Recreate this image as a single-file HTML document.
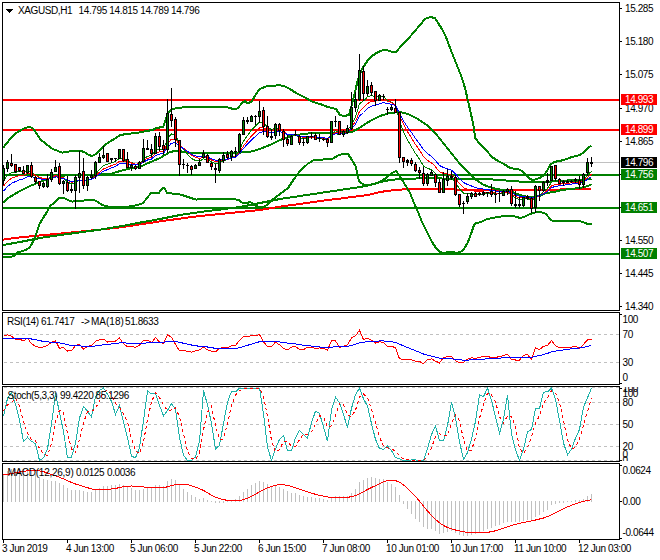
<!DOCTYPE html>
<html><head><meta charset="utf-8"><title>XAGUSD,H1</title>
<style>
html,body{margin:0;padding:0;background:#fff;}
body{width:660px;height:560px;position:relative;overflow:hidden;font-family:"Liberation Sans", sans-serif;}
.t{position:absolute;white-space:nowrap;line-height:11px;height:11px;font-family:"Liberation Sans", sans-serif;}
</style></head><body>
<svg width="660" height="560" viewBox="0 0 660 560" shape-rendering="crispEdges" style="position:absolute;left:0;top:0"><rect x="0" y="0" width="660" height="560" fill="#fff"/><defs><clipPath id="cm"><rect x="3" y="3" width="616" height="307"/></clipPath><clipPath id="cr"><rect x="3" y="313" width="616" height="71"/></clipPath><clipPath id="cs"><rect x="3" y="387" width="616" height="74"/></clipPath><clipPath id="cd"><rect x="3" y="464" width="616" height="75"/></clipPath></defs><g clip-path="url(#cm)"><rect x="3" y="162" width="616" height="1" fill="#c0c0c0"/><rect x="3" y="174" width="616" height="2" fill="#008000"/><rect x="3" y="207" width="616" height="2" fill="#008000"/><rect x="3" y="253" width="616" height="2" fill="#008000"/><rect x="3" y="99" width="616" height="2" fill="#ff0000"/><rect x="3" y="129" width="616" height="2" fill="#ff0000"/><polyline points="3.0,239.6 20.0,237.4 40.0,235.4 60.0,233.6 80.0,231.6 100.0,229.6 120.0,227.4 140.0,224.4 160.0,221.4 180.0,218.6 200.0,216.0 220.0,214.0 240.0,212.0 260.0,210.0 280.0,206.6 300.0,204.0 320.0,201.0 340.0,198.6 360.0,196.0 368.0,195.0 380.0,192.0 390.0,190.6 400.0,189.6 412.0,189.0 440.0,189.0 460.0,189.6 476.0,190.0 492.0,190.0 520.0,190.0 560.0,189.5 591.5,189.0" fill="none" stroke="#ff0000" stroke-width="2" /><polyline points="3.0,245.0 20.0,242.0 40.0,238.0 60.0,235.0 80.0,232.4 100.0,229.6 120.0,226.4 140.0,222.6 160.0,219.0 180.0,215.0 200.0,212.0 220.0,209.6 240.0,207.0 250.0,205.0 260.0,203.0 280.0,199.0 300.0,196.0 320.0,193.0 340.0,190.0 360.0,187.0 370.0,185.0 380.0,182.0 390.0,180.0 400.0,179.0 420.0,178.4 460.0,178.6 492.0,179.4 500.0,180.0 520.0,181.6 530.0,182.0 545.0,182.0 560.0,181.0 575.0,180.0 591.5,179.0" fill="none" stroke="#008000" stroke-width="2" /><polyline points="3.0,148.0 10.0,139.0 16.0,133.0 22.0,129.6 26.0,127.6 30.0,127.0 33.0,128.4 37.0,134.0 40.0,139.0 46.0,144.0 52.0,148.6 58.0,151.0 62.0,152.6 66.0,152.0 72.0,151.0 80.0,150.6 84.0,152.0 89.0,155.0 92.0,156.0 96.0,154.0 100.0,150.0 104.0,146.0 109.0,142.0 116.0,138.0 120.0,135.0 130.0,133.6 140.0,132.4 146.0,131.0 153.0,130.0 156.0,128.0 163.0,127.0 165.0,122.0 168.0,113.0 171.0,110.0 176.0,108.0 188.0,107.0 204.0,106.6 224.0,106.6 230.0,108.0 235.0,109.6 238.0,108.0 242.0,103.0 245.0,101.0 248.0,103.6 252.0,101.0 256.0,94.0 260.0,89.0 266.0,86.4 272.0,86.4 278.0,85.0 284.0,86.0 290.0,89.0 296.0,93.0 304.0,97.0 312.0,101.6 320.0,104.0 328.0,107.0 336.0,109.0 340.0,115.0 344.0,116.0 349.0,115.0 352.0,104.0 355.0,92.0 358.0,79.0 362.0,69.0 364.0,66.0 368.0,60.0 372.0,56.0 378.0,52.0 385.0,49.6 391.0,51.6 396.0,52.0 402.0,45.0 408.0,39.0 414.0,32.0 420.0,25.0 425.0,19.0 430.0,17.0 435.0,18.0 438.0,23.0 442.0,29.0 446.0,37.0 450.0,48.0 454.0,58.0 458.0,68.0 462.0,78.0 465.0,88.0 468.0,101.0 471.0,114.0 474.0,128.0 475.0,138.0 480.0,144.0 486.0,150.0 492.0,157.0 498.0,161.0 504.0,164.0 510.0,168.0 520.0,169.6 524.0,173.0 530.0,179.0 533.0,180.0 540.0,178.0 544.0,175.0 547.0,171.0 550.0,165.0 554.0,162.0 564.0,160.0 572.0,157.0 580.0,155.0 584.0,152.0 588.0,148.0 591.5,145.6" fill="none" stroke="#008000" stroke-width="2" /><polyline points="3.0,203.0 8.0,198.0 20.0,191.0 30.0,186.0 40.0,182.0 50.0,178.0 58.0,176.0 66.0,175.4 80.0,175.4 88.0,175.0 96.0,175.0 104.0,174.0 112.0,173.6 120.0,171.0 130.0,168.4 140.0,167.0 146.0,164.0 153.0,161.0 160.0,158.0 165.0,155.0 170.0,152.0 175.0,151.0 180.0,151.0 184.0,152.4 190.0,152.6 210.0,152.6 232.0,152.6 240.0,152.6 252.0,151.4 258.0,149.6 270.0,145.0 280.0,140.0 292.0,135.6 306.0,133.6 320.0,133.0 340.0,133.6 352.0,132.0 360.0,127.6 370.0,121.0 380.0,116.0 390.0,113.0 400.0,112.0 408.0,114.0 418.0,119.0 428.0,126.0 436.0,134.0 444.0,144.0 452.0,154.0 460.0,164.0 468.0,172.0 476.0,180.0 484.0,185.0 492.0,188.0 500.0,189.6 510.0,191.0 520.0,195.0 528.0,197.0 534.0,197.0 540.0,196.0 546.0,193.0 554.0,192.0 560.0,190.4 570.0,189.0 580.0,188.0 588.0,186.0 591.5,184.4" fill="none" stroke="#008000" stroke-width="2" /><polyline points="3.0,256.6 12.0,256.6 14.0,256.0 18.0,252.4 26.0,250.0 30.0,247.0 34.0,240.0 37.0,232.0 39.0,225.0 43.0,218.0 47.0,212.0 50.0,206.0 55.0,202.4 59.0,198.4 64.0,198.0 68.0,200.0 72.0,201.6 80.0,201.0 88.0,200.0 94.0,200.0 98.0,202.0 102.0,205.0 108.0,206.6 120.0,207.4 130.0,206.4 138.0,205.0 143.0,203.0 147.0,198.0 151.0,193.0 159.0,192.6 163.0,187.6 164.4,188.0 167.0,193.0 180.0,194.4 188.0,197.0 196.0,199.6 204.0,198.6 220.0,198.6 238.0,199.6 242.0,202.6 248.0,203.0 250.0,201.6 254.0,205.0 260.0,207.4 264.0,207.0 268.0,204.0 272.0,200.0 280.0,194.0 288.0,188.0 294.0,179.0 300.0,171.0 308.0,163.6 314.0,160.0 332.0,159.0 338.0,155.6 344.0,153.6 348.0,154.0 352.0,160.0 356.0,167.0 358.0,178.0 360.0,182.4 365.0,185.0 369.0,185.0 372.0,184.6 380.0,182.0 386.0,178.0 392.0,173.0 396.0,171.0 399.0,175.0 404.0,183.0 410.0,193.0 414.0,203.0 418.0,212.0 422.0,222.0 427.0,232.0 432.0,242.0 436.0,248.0 440.0,252.0 444.0,253.0 450.0,251.6 456.0,252.6 460.0,252.4 464.0,249.0 468.0,242.0 471.0,234.0 474.0,225.0 476.0,223.0 480.0,222.4 486.0,219.6 492.0,218.0 500.0,216.6 510.0,215.6 516.0,216.6 520.0,218.0 524.0,217.0 530.0,214.0 535.0,212.4 542.0,212.4 546.0,214.0 550.0,219.0 552.0,220.6 560.0,221.0 570.0,220.6 580.0,221.0 584.0,222.6 588.0,224.0 591.5,224.0" fill="none" stroke="#008000" stroke-width="2" /><polyline points="3.5,180.5 7.5,175.4 11.5,172.5 15.5,172.2 19.5,171.7 23.5,172.2 27.5,170.3 31.5,172.1 35.5,174.8 39.5,177.8 43.5,179.5 47.5,179.5 51.5,177.5 55.5,174.6 59.5,177.2 63.5,178.4 67.5,181.9 71.5,184.0 75.5,182.2 79.5,179.7 83.5,181.4 87.5,180.3 91.5,178.9 95.5,174.2 99.5,169.4 103.5,165.5 107.5,164.3 111.5,162.7 115.5,161.5 119.5,158.1 123.5,158.8 127.5,161.3 131.5,162.5 135.5,164.2 139.5,163.7 143.5,159.4 147.5,156.3 151.5,155.5 155.5,150.1 159.5,149.0 163.5,149.2 167.5,139.0 171.5,133.7 175.5,135.4 179.5,143.7 183.5,149.6 187.5,154.2 191.5,158.5 195.5,160.5 199.5,161.1 203.5,158.9 207.5,159.9 211.5,161.8 215.5,163.7 219.5,162.5 223.5,160.5 227.5,159.7 231.5,157.3 235.5,155.7 239.5,149.6 243.5,141.3 247.5,135.4 251.5,130.0 255.5,126.1 259.5,121.9 263.5,123.2 267.5,127.0 271.5,129.7 275.5,128.2 279.5,128.9 283.5,131.9 287.5,135.2 291.5,135.6 295.5,135.3 299.5,137.3 303.5,138.8 307.5,138.2 311.5,137.7 315.5,138.2 319.5,138.3 323.5,138.6 327.5,139.7 331.5,134.5 335.5,130.8 339.5,131.9 343.5,131.8 347.5,130.8 351.5,124.2 355.5,117.1 359.5,103.8 363.5,100.9 367.5,96.8 371.5,95.5 375.5,97.0 379.5,96.5 383.5,96.5 387.5,100.2 391.5,102.3 395.5,105.2 399.5,120.2 403.5,132.0 407.5,140.1 411.5,146.8 415.5,153.6 419.5,159.0 423.5,166.0 427.5,168.4 431.5,169.6 435.5,173.3 439.5,178.8 443.5,179.0 447.5,178.3 451.5,177.8 455.5,182.5 459.5,188.8 463.5,193.0 467.5,194.0 471.5,193.9 475.5,194.6 479.5,194.3 483.5,193.8 487.5,193.4 491.5,193.7 495.5,193.9 499.5,193.8 503.5,193.2 507.5,192.1 511.5,195.4 515.5,198.0 519.5,199.8 523.5,199.2 527.5,198.4 531.5,201.3 535.5,197.1 539.5,195.2 543.5,191.6 547.5,188.4 551.5,182.1 555.5,181.1 559.5,181.8 563.5,181.7 567.5,181.6 571.5,181.6 575.5,181.0 579.5,182.0 583.5,179.9 587.5,174.9 591.5,171.4" fill="none" stroke="#008000" stroke-width="1" /><polyline points="3.5,186.0 7.5,181.3 11.5,178.1 15.5,176.8 19.5,175.5 23.5,175.1 27.5,173.2 31.5,173.9 35.5,175.4 39.5,177.4 43.5,178.6 47.5,178.8 51.5,177.5 55.5,175.5 59.5,177.1 63.5,178.0 67.5,180.5 71.5,182.3 75.5,181.3 79.5,179.8 83.5,180.9 87.5,180.2 91.5,179.3 95.5,175.9 99.5,172.2 103.5,168.9 107.5,167.4 111.5,165.6 115.5,164.2 119.5,161.3 123.5,161.1 127.5,162.4 131.5,163.0 135.5,164.1 139.5,163.8 143.5,160.7 147.5,158.3 151.5,157.3 155.5,153.2 159.5,151.8 163.5,151.4 167.5,143.8 171.5,139.1 175.5,139.2 179.5,144.3 183.5,148.3 187.5,151.7 191.5,155.3 195.5,157.3 199.5,158.4 203.5,157.4 207.5,158.4 211.5,160.0 215.5,161.7 219.5,161.3 223.5,160.1 227.5,159.6 231.5,158.0 235.5,156.7 239.5,152.2 243.5,145.9 247.5,140.8 251.5,136.0 255.5,132.1 259.5,128.0 263.5,127.7 267.5,129.4 271.5,130.8 275.5,129.6 279.5,129.8 283.5,131.7 287.5,134.1 291.5,134.6 295.5,134.5 299.5,136.1 303.5,137.4 307.5,137.2 311.5,137.1 315.5,137.6 319.5,137.8 323.5,138.1 327.5,139.0 331.5,135.5 335.5,132.7 339.5,133.1 343.5,132.7 347.5,131.9 351.5,127.0 355.5,121.5 359.5,111.3 363.5,107.7 367.5,103.5 371.5,101.3 375.5,101.1 379.5,100.0 383.5,99.3 387.5,101.3 391.5,102.6 395.5,104.6 399.5,115.1 403.5,124.4 407.5,131.6 411.5,138.0 415.5,144.5 419.5,150.1 423.5,156.8 427.5,160.3 431.5,162.8 435.5,166.7 439.5,171.9 443.5,173.4 447.5,174.0 451.5,174.5 455.5,178.5 459.5,183.7 463.5,187.7 467.5,189.4 471.5,190.2 475.5,191.5 479.5,191.9 483.5,192.0 487.5,192.1 491.5,192.6 495.5,193.0 499.5,193.1 503.5,192.8 507.5,192.1 511.5,194.4 515.5,196.4 519.5,198.0 523.5,197.9 527.5,197.6 531.5,199.8 535.5,197.1 539.5,195.8 543.5,193.2 547.5,190.6 551.5,185.8 555.5,184.3 559.5,184.2 563.5,183.6 567.5,183.2 571.5,182.9 575.5,182.2 579.5,182.7 583.5,181.0 587.5,177.3 591.5,174.4" fill="none" stroke="#ff0000" stroke-width="1" /><polyline points="3.5,191.0 7.5,186.6 11.5,183.4 15.5,181.5 19.5,179.8 23.5,178.9 27.5,176.8 31.5,176.8 35.5,177.5 39.5,178.7 43.5,179.5 47.5,179.5 51.5,178.4 55.5,176.7 59.5,177.8 63.5,178.3 67.5,180.2 71.5,181.6 75.5,181.0 79.5,179.8 83.5,180.7 87.5,180.2 91.5,179.5 95.5,176.9 99.5,173.9 103.5,171.1 107.5,169.6 111.5,167.9 115.5,166.4 119.5,163.8 123.5,163.3 127.5,164.0 131.5,164.2 135.5,164.9 139.5,164.5 143.5,162.0 147.5,160.0 151.5,159.0 155.5,155.5 159.5,154.1 163.5,153.4 167.5,147.3 171.5,143.2 175.5,142.6 179.5,146.0 183.5,148.8 187.5,151.4 191.5,154.2 195.5,155.9 199.5,156.9 203.5,156.4 207.5,157.3 211.5,158.7 215.5,160.2 219.5,160.1 223.5,159.4 227.5,159.1 231.5,158.0 235.5,157.0 239.5,153.5 243.5,148.4 247.5,144.1 251.5,139.9 255.5,136.3 259.5,132.5 263.5,131.6 267.5,132.3 271.5,133.0 275.5,131.7 279.5,131.5 283.5,132.7 287.5,134.4 291.5,134.7 295.5,134.7 299.5,135.9 303.5,136.9 307.5,136.8 311.5,136.8 315.5,137.2 319.5,137.4 323.5,137.7 327.5,138.5 331.5,135.8 335.5,133.6 339.5,133.8 343.5,133.4 347.5,132.7 351.5,128.8 355.5,124.3 359.5,116.0 363.5,112.5 367.5,108.5 371.5,106.1 375.5,105.2 379.5,103.7 383.5,102.6 387.5,103.7 391.5,104.3 395.5,105.5 399.5,113.5 403.5,120.9 407.5,127.0 411.5,132.6 415.5,138.4 419.5,143.7 423.5,149.8 427.5,153.6 431.5,156.5 435.5,160.5 439.5,165.4 443.5,167.6 447.5,169.0 451.5,170.1 455.5,173.9 459.5,178.6 463.5,182.4 467.5,184.6 471.5,186.0 475.5,187.6 479.5,188.5 483.5,189.1 487.5,189.6 491.5,190.4 495.5,191.0 499.5,191.4 503.5,191.4 507.5,191.1 511.5,193.0 515.5,194.8 519.5,196.3 523.5,196.5 527.5,196.5 531.5,198.3 535.5,196.5 539.5,195.6 543.5,193.6 547.5,191.6 551.5,187.7 555.5,186.3 559.5,185.9 563.5,185.2 567.5,184.6 571.5,184.1 575.5,183.4 579.5,183.6 583.5,182.2 587.5,179.2 591.5,176.6" fill="none" stroke="#0000ff" stroke-width="1" /><rect x="3" y="165" width="1" height="20" fill="#000"/><rect x="2" y="168" width="3" height="13" fill="#000"/><rect x="3" y="169" width="1" height="11" fill="#008000"/><rect x="7" y="160" width="1" height="12" fill="#000"/><rect x="6" y="162" width="3" height="7" fill="#000"/><rect x="7" y="163" width="1" height="5" fill="#008000"/><rect x="11" y="154" width="1" height="13" fill="#000"/><rect x="10" y="163" width="3" height="3" fill="#000"/><rect x="11" y="164" width="1" height="1" fill="#ff0000"/><rect x="15" y="164" width="1" height="9" fill="#000"/><rect x="14" y="164" width="3" height="8" fill="#000"/><rect x="15" y="165" width="1" height="6" fill="#ff0000"/><rect x="19" y="167" width="1" height="5" fill="#000"/><rect x="18" y="167" width="3" height="4" fill="#000"/><rect x="19" y="168" width="1" height="2" fill="#ff0000"/><rect x="23" y="166" width="1" height="8" fill="#000"/><rect x="22" y="170" width="3" height="4" fill="#000"/><rect x="23" y="171" width="1" height="2" fill="#ff0000"/><rect x="27" y="165" width="1" height="9" fill="#000"/><rect x="26" y="165" width="3" height="8" fill="#000"/><rect x="27" y="166" width="1" height="6" fill="#008000"/><rect x="31" y="162" width="1" height="16" fill="#000"/><rect x="30" y="165" width="3" height="12" fill="#000"/><rect x="31" y="166" width="1" height="10" fill="#ff0000"/><rect x="35" y="176" width="1" height="8" fill="#000"/><rect x="34" y="177" width="3" height="5" fill="#000"/><rect x="35" y="178" width="1" height="3" fill="#ff0000"/><rect x="39" y="181" width="1" height="8" fill="#000"/><rect x="38" y="181" width="3" height="5" fill="#000"/><rect x="39" y="182" width="1" height="3" fill="#ff0000"/><rect x="43" y="182" width="1" height="6" fill="#000"/><rect x="42" y="183" width="3" height="4" fill="#000"/><rect x="43" y="184" width="1" height="2" fill="#008000"/><rect x="47" y="174" width="1" height="14" fill="#000"/><rect x="46" y="179" width="3" height="8" fill="#000"/><rect x="47" y="180" width="1" height="6" fill="#008000"/><rect x="51" y="169" width="1" height="13" fill="#000"/><rect x="50" y="172" width="3" height="8" fill="#000"/><rect x="51" y="173" width="1" height="6" fill="#008000"/><rect x="55" y="160" width="1" height="12" fill="#000"/><rect x="54" y="167" width="3" height="5" fill="#000"/><rect x="55" y="168" width="1" height="3" fill="#008000"/><rect x="59" y="163" width="1" height="22" fill="#000"/><rect x="58" y="166" width="3" height="18" fill="#000"/><rect x="59" y="167" width="1" height="16" fill="#ff0000"/><rect x="63" y="180" width="1" height="14" fill="#000"/><rect x="62" y="181" width="3" height="3" fill="#000"/><rect x="63" y="182" width="1" height="1" fill="#008000"/><rect x="67" y="176" width="1" height="16" fill="#000"/><rect x="66" y="182" width="3" height="9" fill="#000"/><rect x="67" y="183" width="1" height="7" fill="#ff0000"/><rect x="71" y="185" width="1" height="8" fill="#000"/><rect x="70" y="189" width="3" height="2" fill="#000"/><rect x="75" y="175" width="1" height="34" fill="#000"/><rect x="74" y="177" width="3" height="14" fill="#000"/><rect x="75" y="178" width="1" height="12" fill="#008000"/><rect x="79" y="151" width="1" height="42" fill="#000"/><rect x="78" y="173" width="3" height="5" fill="#000"/><rect x="79" y="174" width="1" height="3" fill="#008000"/><rect x="83" y="158" width="1" height="31" fill="#000"/><rect x="82" y="171" width="3" height="15" fill="#000"/><rect x="83" y="172" width="1" height="13" fill="#ff0000"/><rect x="87" y="176" width="1" height="15" fill="#000"/><rect x="86" y="177" width="3" height="9" fill="#000"/><rect x="87" y="178" width="1" height="7" fill="#008000"/><rect x="91" y="170" width="1" height="9" fill="#000"/><rect x="90" y="175" width="3" height="3" fill="#000"/><rect x="91" y="176" width="1" height="1" fill="#008000"/><rect x="95" y="161" width="1" height="18" fill="#000"/><rect x="94" y="162" width="3" height="14" fill="#000"/><rect x="95" y="163" width="1" height="12" fill="#008000"/><rect x="99" y="153" width="1" height="10" fill="#000"/><rect x="98" y="157" width="3" height="6" fill="#000"/><rect x="99" y="158" width="1" height="4" fill="#008000"/><rect x="103" y="146" width="1" height="13" fill="#000"/><rect x="102" y="155" width="3" height="3" fill="#000"/><rect x="103" y="156" width="1" height="1" fill="#008000"/><rect x="107" y="153" width="1" height="9" fill="#000"/><rect x="106" y="153" width="3" height="9" fill="#000"/><rect x="107" y="154" width="1" height="7" fill="#ff0000"/><rect x="111" y="158" width="1" height="5" fill="#000"/><rect x="110" y="158" width="3" height="2" fill="#000"/><rect x="115" y="158" width="1" height="4" fill="#000"/><rect x="114" y="158" width="3" height="1" fill="#000"/><rect x="119" y="149" width="1" height="10" fill="#000"/><rect x="118" y="149" width="3" height="10" fill="#000"/><rect x="119" y="150" width="1" height="8" fill="#008000"/><rect x="123" y="149" width="1" height="13" fill="#000"/><rect x="122" y="149" width="3" height="12" fill="#000"/><rect x="123" y="150" width="1" height="10" fill="#ff0000"/><rect x="127" y="152" width="1" height="16" fill="#000"/><rect x="126" y="159" width="3" height="9" fill="#000"/><rect x="127" y="160" width="1" height="7" fill="#ff0000"/><rect x="131" y="164" width="1" height="7" fill="#000"/><rect x="130" y="165" width="3" height="3" fill="#000"/><rect x="131" y="166" width="1" height="1" fill="#008000"/><rect x="135" y="165" width="1" height="5" fill="#000"/><rect x="134" y="166" width="3" height="3" fill="#000"/><rect x="135" y="167" width="1" height="1" fill="#ff0000"/><rect x="139" y="161" width="1" height="8" fill="#000"/><rect x="138" y="162" width="3" height="7" fill="#000"/><rect x="139" y="163" width="1" height="5" fill="#008000"/><rect x="143" y="139" width="1" height="24" fill="#000"/><rect x="142" y="148" width="3" height="14" fill="#000"/><rect x="143" y="149" width="1" height="12" fill="#008000"/><rect x="147" y="140" width="1" height="10" fill="#000"/><rect x="146" y="148" width="3" height="2" fill="#000"/><rect x="151" y="144" width="1" height="13" fill="#000"/><rect x="150" y="149" width="3" height="5" fill="#000"/><rect x="151" y="150" width="1" height="3" fill="#ff0000"/><rect x="155" y="133" width="1" height="21" fill="#000"/><rect x="154" y="136" width="3" height="18" fill="#000"/><rect x="155" y="137" width="1" height="16" fill="#008000"/><rect x="159" y="132" width="1" height="19" fill="#000"/><rect x="158" y="136" width="3" height="11" fill="#000"/><rect x="159" y="137" width="1" height="9" fill="#ff0000"/><rect x="163" y="140" width="1" height="15" fill="#000"/><rect x="162" y="145" width="3" height="5" fill="#000"/><rect x="163" y="146" width="1" height="3" fill="#ff0000"/><rect x="167" y="99" width="1" height="54" fill="#000"/><rect x="166" y="113" width="3" height="37" fill="#000"/><rect x="167" y="114" width="1" height="35" fill="#008000"/><rect x="171" y="88" width="1" height="39" fill="#000"/><rect x="170" y="114" width="3" height="7" fill="#000"/><rect x="171" y="115" width="1" height="5" fill="#ff0000"/><rect x="175" y="117" width="1" height="30" fill="#000"/><rect x="174" y="119" width="3" height="21" fill="#000"/><rect x="175" y="120" width="1" height="19" fill="#ff0000"/><rect x="179" y="140" width="1" height="36" fill="#000"/><rect x="178" y="140" width="3" height="25" fill="#000"/><rect x="179" y="141" width="1" height="23" fill="#ff0000"/><rect x="183" y="159" width="1" height="10" fill="#000"/><rect x="182" y="164" width="3" height="1" fill="#000"/><rect x="187" y="163" width="1" height="10" fill="#000"/><rect x="186" y="165" width="3" height="1" fill="#000"/><rect x="191" y="165" width="1" height="10" fill="#000"/><rect x="190" y="166" width="3" height="4" fill="#000"/><rect x="191" y="167" width="1" height="2" fill="#ff0000"/><rect x="195" y="164" width="1" height="5" fill="#000"/><rect x="194" y="165" width="3" height="4" fill="#000"/><rect x="195" y="166" width="1" height="2" fill="#008000"/><rect x="199" y="159" width="1" height="7" fill="#000"/><rect x="198" y="162" width="3" height="4" fill="#000"/><rect x="199" y="163" width="1" height="2" fill="#008000"/><rect x="203" y="150" width="1" height="8" fill="#000"/><rect x="202" y="153" width="3" height="5" fill="#000"/><rect x="203" y="154" width="1" height="3" fill="#008000"/><rect x="207" y="154" width="1" height="9" fill="#000"/><rect x="206" y="155" width="3" height="8" fill="#000"/><rect x="207" y="156" width="1" height="6" fill="#ff0000"/><rect x="211" y="162" width="1" height="8" fill="#000"/><rect x="210" y="163" width="3" height="4" fill="#000"/><rect x="211" y="164" width="1" height="2" fill="#ff0000"/><rect x="215" y="164" width="1" height="19" fill="#000"/><rect x="214" y="168" width="3" height="2" fill="#000"/><rect x="219" y="158" width="1" height="15" fill="#000"/><rect x="218" y="159" width="3" height="12" fill="#000"/><rect x="219" y="160" width="1" height="10" fill="#008000"/><rect x="223" y="152" width="1" height="11" fill="#000"/><rect x="222" y="155" width="3" height="6" fill="#000"/><rect x="223" y="156" width="1" height="4" fill="#008000"/><rect x="227" y="151" width="1" height="8" fill="#000"/><rect x="226" y="154" width="3" height="4" fill="#000"/><rect x="227" y="155" width="1" height="2" fill="#ff0000"/><rect x="231" y="150" width="1" height="11" fill="#000"/><rect x="230" y="151" width="3" height="6" fill="#000"/><rect x="231" y="152" width="1" height="4" fill="#008000"/><rect x="235" y="147" width="1" height="10" fill="#000"/><rect x="234" y="151" width="3" height="1" fill="#000"/><rect x="239" y="133" width="1" height="20" fill="#000"/><rect x="238" y="134" width="3" height="18" fill="#000"/><rect x="239" y="135" width="1" height="16" fill="#008000"/><rect x="243" y="117" width="1" height="18" fill="#000"/><rect x="242" y="120" width="3" height="15" fill="#000"/><rect x="243" y="121" width="1" height="13" fill="#008000"/><rect x="247" y="117" width="1" height="7" fill="#000"/><rect x="246" y="120" width="3" height="2" fill="#000"/><rect x="251" y="115" width="1" height="7" fill="#000"/><rect x="250" y="116" width="3" height="6" fill="#000"/><rect x="251" y="117" width="1" height="4" fill="#008000"/><rect x="255" y="115" width="1" height="10" fill="#000"/><rect x="254" y="116" width="3" height="1" fill="#000"/><rect x="259" y="101" width="1" height="22" fill="#000"/><rect x="258" y="111" width="3" height="6" fill="#000"/><rect x="259" y="112" width="1" height="4" fill="#008000"/><rect x="263" y="107" width="1" height="28" fill="#000"/><rect x="262" y="110" width="3" height="17" fill="#000"/><rect x="263" y="111" width="1" height="15" fill="#ff0000"/><rect x="267" y="116" width="1" height="22" fill="#000"/><rect x="266" y="126" width="3" height="11" fill="#000"/><rect x="267" y="127" width="1" height="9" fill="#ff0000"/><rect x="271" y="129" width="1" height="11" fill="#000"/><rect x="270" y="136" width="3" height="2" fill="#000"/><rect x="275" y="123" width="1" height="16" fill="#000"/><rect x="274" y="124" width="3" height="12" fill="#000"/><rect x="275" y="125" width="1" height="10" fill="#008000"/><rect x="279" y="123" width="1" height="13" fill="#000"/><rect x="278" y="124" width="3" height="7" fill="#000"/><rect x="279" y="125" width="1" height="5" fill="#ff0000"/><rect x="283" y="129" width="1" height="18" fill="#000"/><rect x="282" y="131" width="3" height="9" fill="#000"/><rect x="283" y="132" width="1" height="7" fill="#ff0000"/><rect x="287" y="135" width="1" height="11" fill="#000"/><rect x="286" y="139" width="3" height="5" fill="#000"/><rect x="287" y="140" width="1" height="3" fill="#ff0000"/><rect x="291" y="135" width="1" height="10" fill="#000"/><rect x="290" y="136" width="3" height="9" fill="#000"/><rect x="291" y="137" width="1" height="7" fill="#008000"/><rect x="295" y="130" width="1" height="6" fill="#000"/><rect x="294" y="134" width="3" height="1" fill="#000"/><rect x="299" y="135" width="1" height="10" fill="#000"/><rect x="298" y="136" width="3" height="7" fill="#000"/><rect x="299" y="137" width="1" height="5" fill="#ff0000"/><rect x="303" y="138" width="1" height="8" fill="#000"/><rect x="302" y="142" width="3" height="1" fill="#000"/><rect x="307" y="136" width="1" height="8" fill="#000"/><rect x="306" y="136" width="3" height="7" fill="#000"/><rect x="307" y="137" width="1" height="5" fill="#008000"/><rect x="311" y="132" width="1" height="7" fill="#000"/><rect x="310" y="136" width="3" height="1" fill="#000"/><rect x="315" y="133" width="1" height="7" fill="#000"/><rect x="314" y="135" width="3" height="5" fill="#000"/><rect x="315" y="136" width="1" height="3" fill="#ff0000"/><rect x="319" y="134" width="1" height="8" fill="#000"/><rect x="318" y="138" width="3" height="1" fill="#000"/><rect x="323" y="138" width="1" height="3" fill="#000"/><rect x="322" y="139" width="3" height="1" fill="#000"/><rect x="327" y="138" width="1" height="9" fill="#000"/><rect x="326" y="139" width="3" height="4" fill="#000"/><rect x="327" y="140" width="1" height="2" fill="#ff0000"/><rect x="331" y="121" width="1" height="22" fill="#000"/><rect x="330" y="121" width="3" height="22" fill="#000"/><rect x="331" y="122" width="1" height="20" fill="#008000"/><rect x="335" y="116" width="1" height="11" fill="#000"/><rect x="334" y="121" width="3" height="1" fill="#000"/><rect x="339" y="121" width="1" height="14" fill="#000"/><rect x="338" y="121" width="3" height="14" fill="#000"/><rect x="339" y="122" width="1" height="12" fill="#ff0000"/><rect x="343" y="130" width="1" height="7" fill="#000"/><rect x="342" y="131" width="3" height="4" fill="#000"/><rect x="343" y="132" width="1" height="2" fill="#008000"/><rect x="347" y="125" width="1" height="9" fill="#000"/><rect x="346" y="128" width="3" height="5" fill="#000"/><rect x="347" y="129" width="1" height="3" fill="#008000"/><rect x="351" y="92" width="1" height="38" fill="#000"/><rect x="350" y="107" width="3" height="22" fill="#000"/><rect x="351" y="108" width="1" height="20" fill="#008000"/><rect x="355" y="92" width="1" height="20" fill="#000"/><rect x="354" y="99" width="3" height="9" fill="#000"/><rect x="355" y="100" width="1" height="7" fill="#008000"/><rect x="359" y="54" width="1" height="47" fill="#000"/><rect x="358" y="70" width="3" height="30" fill="#000"/><rect x="359" y="71" width="1" height="28" fill="#008000"/><rect x="363" y="66" width="1" height="35" fill="#000"/><rect x="362" y="71" width="3" height="23" fill="#000"/><rect x="363" y="72" width="1" height="21" fill="#ff0000"/><rect x="367" y="80" width="1" height="16" fill="#000"/><rect x="366" y="86" width="3" height="8" fill="#000"/><rect x="367" y="87" width="1" height="6" fill="#008000"/><rect x="371" y="82" width="1" height="14" fill="#000"/><rect x="370" y="85" width="3" height="8" fill="#000"/><rect x="371" y="86" width="1" height="6" fill="#ff0000"/><rect x="375" y="91" width="1" height="15" fill="#000"/><rect x="374" y="91" width="3" height="10" fill="#000"/><rect x="375" y="92" width="1" height="8" fill="#ff0000"/><rect x="379" y="94" width="1" height="7" fill="#000"/><rect x="378" y="95" width="3" height="6" fill="#000"/><rect x="379" y="96" width="1" height="4" fill="#008000"/><rect x="383" y="94" width="1" height="6" fill="#000"/><rect x="382" y="96" width="3" height="1" fill="#000"/><rect x="387" y="107" width="1" height="8" fill="#000"/><rect x="386" y="109" width="3" height="1" fill="#000"/><rect x="391" y="105" width="1" height="6" fill="#000"/><rect x="390" y="107" width="3" height="3" fill="#000"/><rect x="391" y="108" width="1" height="1" fill="#008000"/><rect x="395" y="99" width="1" height="14" fill="#000"/><rect x="394" y="108" width="3" height="5" fill="#000"/><rect x="395" y="109" width="1" height="3" fill="#ff0000"/><rect x="399" y="112" width="1" height="51" fill="#000"/><rect x="398" y="112" width="3" height="46" fill="#000"/><rect x="399" y="113" width="1" height="44" fill="#ff0000"/><rect x="403" y="157" width="1" height="11" fill="#000"/><rect x="402" y="157" width="3" height="5" fill="#000"/><rect x="403" y="158" width="1" height="3" fill="#ff0000"/><rect x="407" y="159" width="1" height="7" fill="#000"/><rect x="406" y="160" width="3" height="3" fill="#000"/><rect x="411" y="158" width="1" height="8" fill="#000"/><rect x="410" y="160" width="3" height="4" fill="#000"/><rect x="411" y="161" width="1" height="2" fill="#ff0000"/><rect x="415" y="162" width="1" height="10" fill="#000"/><rect x="414" y="164" width="3" height="7" fill="#000"/><rect x="415" y="165" width="1" height="5" fill="#ff0000"/><rect x="419" y="167" width="1" height="12" fill="#000"/><rect x="418" y="170" width="3" height="3" fill="#000"/><rect x="419" y="171" width="1" height="1" fill="#ff0000"/><rect x="423" y="167" width="1" height="19" fill="#000"/><rect x="422" y="173" width="3" height="11" fill="#000"/><rect x="423" y="174" width="1" height="9" fill="#ff0000"/><rect x="427" y="173" width="1" height="13" fill="#000"/><rect x="426" y="174" width="3" height="10" fill="#000"/><rect x="427" y="175" width="1" height="8" fill="#008000"/><rect x="431" y="170" width="1" height="6" fill="#000"/><rect x="430" y="172" width="3" height="4" fill="#000"/><rect x="431" y="173" width="1" height="2" fill="#008000"/><rect x="435" y="174" width="1" height="13" fill="#000"/><rect x="434" y="174" width="3" height="9" fill="#000"/><rect x="435" y="175" width="1" height="7" fill="#ff0000"/><rect x="439" y="179" width="1" height="14" fill="#000"/><rect x="438" y="182" width="3" height="11" fill="#000"/><rect x="439" y="183" width="1" height="9" fill="#ff0000"/><rect x="443" y="172" width="1" height="21" fill="#000"/><rect x="442" y="179" width="3" height="14" fill="#000"/><rect x="443" y="180" width="1" height="12" fill="#008000"/><rect x="447" y="169" width="1" height="17" fill="#000"/><rect x="446" y="176" width="3" height="5" fill="#000"/><rect x="447" y="177" width="1" height="3" fill="#008000"/><rect x="451" y="171" width="1" height="9" fill="#000"/><rect x="450" y="176" width="3" height="2" fill="#000"/><rect x="455" y="175" width="1" height="21" fill="#000"/><rect x="454" y="177" width="3" height="18" fill="#000"/><rect x="455" y="178" width="1" height="16" fill="#ff0000"/><rect x="459" y="194" width="1" height="13" fill="#000"/><rect x="458" y="194" width="3" height="11" fill="#000"/><rect x="459" y="195" width="1" height="9" fill="#ff0000"/><rect x="463" y="201" width="1" height="13" fill="#000"/><rect x="462" y="203" width="3" height="1" fill="#000"/><rect x="467" y="193" width="1" height="11" fill="#000"/><rect x="466" y="196" width="3" height="6" fill="#000"/><rect x="467" y="197" width="1" height="4" fill="#008000"/><rect x="471" y="192" width="1" height="7" fill="#000"/><rect x="470" y="193" width="3" height="4" fill="#000"/><rect x="471" y="194" width="1" height="2" fill="#008000"/><rect x="475" y="192" width="1" height="5" fill="#000"/><rect x="474" y="193" width="3" height="4" fill="#000"/><rect x="475" y="194" width="1" height="2" fill="#ff0000"/><rect x="479" y="192" width="1" height="4" fill="#000"/><rect x="478" y="193" width="3" height="2" fill="#000"/><rect x="483" y="191" width="1" height="5" fill="#000"/><rect x="482" y="192" width="3" height="3" fill="#000"/><rect x="487" y="192" width="1" height="5" fill="#000"/><rect x="486" y="192" width="3" height="1" fill="#000"/><rect x="491" y="184" width="1" height="13" fill="#000"/><rect x="490" y="191" width="3" height="4" fill="#000"/><rect x="491" y="192" width="1" height="2" fill="#ff0000"/><rect x="495" y="190" width="1" height="13" fill="#000"/><rect x="494" y="194" width="3" height="1" fill="#000"/><rect x="499" y="191" width="1" height="11" fill="#000"/><rect x="498" y="193" width="3" height="1" fill="#000"/><rect x="503" y="190" width="1" height="6" fill="#000"/><rect x="502" y="191" width="3" height="5" fill="#000"/><rect x="503" y="192" width="1" height="3" fill="#008000"/><rect x="507" y="188" width="1" height="7" fill="#000"/><rect x="506" y="189" width="3" height="3" fill="#000"/><rect x="507" y="190" width="1" height="1" fill="#008000"/><rect x="511" y="186" width="1" height="20" fill="#000"/><rect x="510" y="189" width="3" height="15" fill="#000"/><rect x="511" y="190" width="1" height="13" fill="#ff0000"/><rect x="515" y="191" width="1" height="17" fill="#000"/><rect x="514" y="204" width="3" height="2" fill="#000"/><rect x="519" y="197" width="1" height="11" fill="#000"/><rect x="518" y="204" width="3" height="2" fill="#000"/><rect x="523" y="197" width="1" height="10" fill="#000"/><rect x="522" y="197" width="3" height="9" fill="#000"/><rect x="523" y="198" width="1" height="7" fill="#008000"/><rect x="527" y="195" width="1" height="5" fill="#000"/><rect x="526" y="196" width="3" height="3" fill="#000"/><rect x="531" y="197" width="1" height="16" fill="#000"/><rect x="530" y="198" width="3" height="11" fill="#000"/><rect x="531" y="199" width="1" height="9" fill="#ff0000"/><rect x="535" y="185" width="1" height="28" fill="#000"/><rect x="534" y="186" width="3" height="22" fill="#000"/><rect x="535" y="187" width="1" height="20" fill="#008000"/><rect x="539" y="186" width="1" height="15" fill="#000"/><rect x="538" y="186" width="3" height="5" fill="#000"/><rect x="539" y="187" width="1" height="3" fill="#ff0000"/><rect x="543" y="181" width="1" height="11" fill="#000"/><rect x="542" y="182" width="3" height="9" fill="#000"/><rect x="543" y="183" width="1" height="7" fill="#008000"/><rect x="547" y="173" width="1" height="13" fill="#000"/><rect x="546" y="180" width="3" height="3" fill="#000"/><rect x="551" y="166" width="1" height="15" fill="#000"/><rect x="550" y="166" width="3" height="15" fill="#000"/><rect x="551" y="167" width="1" height="13" fill="#008000"/><rect x="555" y="165" width="1" height="16" fill="#000"/><rect x="554" y="165" width="3" height="14" fill="#000"/><rect x="555" y="166" width="1" height="12" fill="#ff0000"/><rect x="559" y="178" width="1" height="6" fill="#000"/><rect x="558" y="179" width="3" height="5" fill="#000"/><rect x="559" y="180" width="1" height="3" fill="#ff0000"/><rect x="563" y="180" width="1" height="6" fill="#000"/><rect x="562" y="181" width="3" height="2" fill="#000"/><rect x="567" y="180" width="1" height="3" fill="#000"/><rect x="566" y="181" width="3" height="2" fill="#000"/><rect x="571" y="180" width="1" height="3" fill="#000"/><rect x="570" y="181" width="3" height="1" fill="#000"/><rect x="575" y="178" width="1" height="5" fill="#000"/><rect x="574" y="179" width="3" height="2" fill="#000"/><rect x="579" y="176" width="1" height="13" fill="#000"/><rect x="578" y="180" width="3" height="5" fill="#000"/><rect x="579" y="181" width="1" height="3" fill="#ff0000"/><rect x="583" y="173" width="1" height="15" fill="#000"/><rect x="582" y="174" width="3" height="11" fill="#000"/><rect x="583" y="175" width="1" height="9" fill="#008000"/><rect x="587" y="158" width="1" height="18" fill="#000"/><rect x="586" y="162" width="3" height="11" fill="#000"/><rect x="587" y="163" width="1" height="9" fill="#008000"/><rect x="591" y="157" width="1" height="10" fill="#000"/><rect x="590" y="162" width="3" height="2" fill="#000"/></g><g clip-path="url(#cr)"><line x1="4" x2="619" y1="334.5" y2="334.5" stroke="#c0c0c0" stroke-width="1" stroke-dasharray="3 3"/><line x1="4" x2="619" y1="362.5" y2="362.5" stroke="#c0c0c0" stroke-width="1" stroke-dasharray="3 3"/><polyline points="3.5,336.1 7.5,334.7 11.5,336.3 15.5,339.5 19.5,339.2 23.5,340.8 27.5,338.2 31.5,343.8 35.5,346.1 39.5,347.8 43.5,347.0 47.5,345.3 51.5,342.5 55.5,340.7 59.5,348.3 63.5,347.5 67.5,351.1 71.5,350.7 75.5,345.7 79.5,344.2 83.5,349.3 87.5,346.3 91.5,345.5 95.5,341.2 99.5,339.7 103.5,339.1 107.5,342.1 111.5,341.1 115.5,341.1 119.5,338.1 123.5,343.8 127.5,346.9 131.5,346.1 135.5,347.5 139.5,345.0 143.5,340.1 147.5,340.1 151.5,342.7 155.5,337.4 159.5,342.2 163.5,343.5 167.5,334.7 171.5,337.5 175.5,344.2 179.5,350.9 183.5,350.9 187.5,351.1 191.5,352.2 195.5,350.9 199.5,349.9 203.5,347.0 207.5,349.9 211.5,351.1 215.5,351.7 219.5,348.5 223.5,347.1 227.5,347.8 231.5,345.7 235.5,345.7 239.5,340.2 243.5,336.7 247.5,336.7 251.5,335.7 255.5,335.7 259.5,334.5 263.5,342.1 267.5,346.3 271.5,346.3 275.5,342.2 279.5,344.8 283.5,348.3 287.5,349.8 291.5,347.1 295.5,346.4 299.5,349.6 303.5,349.6 307.5,347.1 311.5,347.1 315.5,348.5 319.5,348.0 323.5,348.5 327.5,350.1 331.5,340.8 335.5,340.8 339.5,347.4 343.5,346.1 347.5,344.9 351.5,337.9 355.5,335.8 359.5,330.3 363.5,339.6 367.5,338.2 371.5,340.3 375.5,343.1 379.5,341.9 383.5,342.2 387.5,346.8 391.5,346.2 395.5,347.9 399.5,358.8 403.5,359.5 407.5,359.2 411.5,359.8 415.5,361.1 419.5,361.5 423.5,363.6 427.5,359.8 431.5,358.9 435.5,361.1 439.5,363.0 443.5,357.7 447.5,356.6 451.5,356.6 455.5,360.7 459.5,362.6 463.5,362.2 467.5,359.1 471.5,357.8 475.5,358.5 479.5,357.2 483.5,356.7 487.5,356.7 491.5,357.3 495.5,357.3 499.5,356.7 503.5,355.4 507.5,354.1 511.5,359.7 515.5,360.0 519.5,360.0 523.5,355.2 527.5,354.5 531.5,359.4 535.5,347.9 539.5,349.6 543.5,346.3 547.5,345.5 551.5,340.6 555.5,345.9 559.5,347.9 563.5,347.1 567.5,347.1 571.5,347.1 575.5,346.2 579.5,348.7 583.5,344.3 587.5,339.9 591.5,339.9" fill="none" stroke="#ff0000" stroke-width="1" /><polyline points="3.5,338.7 7.5,338.3 11.5,338.1 15.5,338.2 19.5,338.2 23.5,338.5 27.5,338.4 31.5,339.0 35.5,339.7 39.5,340.6 43.5,341.4 47.5,341.9 51.5,342.2 55.5,342.2 59.5,342.9 63.5,343.6 67.5,344.6 71.5,345.5 75.5,345.7 79.5,345.8 83.5,346.3 87.5,346.5 91.5,346.5 95.5,346.0 99.5,345.4 103.5,344.7 107.5,344.4 111.5,343.9 115.5,343.6 119.5,342.9 123.5,342.8 127.5,343.1 131.5,343.3 135.5,343.6 139.5,343.7 143.5,343.3 147.5,342.9 151.5,342.9 155.5,342.3 159.5,342.2 163.5,342.4 167.5,341.6 171.5,341.1 175.5,341.4 179.5,342.4 183.5,343.2 187.5,344.1 191.5,345.0 195.5,345.7 199.5,346.3 203.5,346.5 207.5,347.0 211.5,347.7 215.5,348.3 219.5,348.6 223.5,348.7 227.5,348.8 231.5,348.6 235.5,348.4 239.5,347.7 243.5,346.5 247.5,345.3 251.5,344.1 255.5,342.9 259.5,341.7 263.5,341.4 267.5,341.7 271.5,341.9 275.5,341.7 279.5,341.9 283.5,342.4 287.5,343.1 291.5,343.5 295.5,343.9 299.5,344.6 303.5,345.3 307.5,345.7 311.5,346.1 315.5,346.6 319.5,347.0 323.5,347.4 327.5,347.8 331.5,347.3 335.5,346.6 339.5,346.7 343.5,346.6 347.5,346.4 351.5,345.5 355.5,344.3 359.5,342.7 363.5,342.2 367.5,341.5 371.5,341.1 375.5,341.1 379.5,341.0 383.5,340.9 387.5,341.4 391.5,341.8 395.5,342.4 399.5,344.1 403.5,345.9 407.5,347.5 411.5,349.1 415.5,350.7 419.5,352.3 423.5,354.0 427.5,355.2 431.5,356.2 435.5,357.2 439.5,358.2 443.5,358.6 447.5,358.8 451.5,358.8 455.5,359.3 459.5,359.8 463.5,360.1 467.5,360.1 471.5,359.9 475.5,359.7 479.5,359.4 483.5,359.1 487.5,358.8 491.5,358.5 495.5,358.3 499.5,358.1 503.5,357.8 507.5,357.3 511.5,357.5 515.5,357.7 519.5,357.9 523.5,357.6 527.5,357.2 531.5,357.4 535.5,356.3 539.5,355.6 543.5,354.5 547.5,353.4 551.5,351.9 555.5,351.1 559.5,350.5 563.5,349.9 567.5,349.3 571.5,348.8 575.5,348.3 579.5,348.0 583.5,347.4 587.5,346.4 591.5,345.5" fill="none" stroke="#0000ff" stroke-width="1" /></g><g clip-path="url(#cs)"><line x1="4" x2="619" y1="387.5" y2="387.5" stroke="#c0c0c0" stroke-width="1" stroke-dasharray="3 3"/><line x1="4" x2="619" y1="402.5" y2="402.5" stroke="#c0c0c0" stroke-width="1" stroke-dasharray="3 3"/><line x1="4" x2="619" y1="424.5" y2="424.5" stroke="#c0c0c0" stroke-width="1" stroke-dasharray="3 3"/><line x1="4" x2="619" y1="446.5" y2="446.5" stroke="#c0c0c0" stroke-width="1" stroke-dasharray="3 3"/><line x1="4" x2="619" y1="460.5" y2="460.5" stroke="#c0c0c0" stroke-width="1" stroke-dasharray="3 3"/><polyline points="3.5,415.9 7.5,398.4 11.5,392.5 15.5,404.1 19.5,420.2 23.5,441.4 27.5,437.2 31.5,441.2 35.5,443.9 39.5,460.5 43.5,457.9 47.5,448.7 51.5,424.2 55.5,393.4 59.5,412.7 63.5,431.5 67.5,457.9 71.5,457.0 75.5,443.3 79.5,418.1 83.5,406.5 87.5,411.2 91.5,417.0 95.5,396.5 99.5,390.3 103.5,388.0 107.5,394.2 111.5,401.3 115.5,414.4 119.5,405.4 123.5,421.8 127.5,438.1 131.5,456.0 135.5,457.9 139.5,447.6 143.5,420.4 147.5,391.0 151.5,394.0 155.5,393.5 159.5,405.3 163.5,415.8 167.5,410.5 171.5,403.6 175.5,409.4 179.5,437.5 183.5,455.2 187.5,460.5 191.5,460.5 195.5,456.9 199.5,441.5 203.5,390.6 207.5,404.7 211.5,423.4 215.5,449.0 219.5,445.3 223.5,423.4 227.5,402.1 231.5,391.4 235.5,391.8 239.5,388.0 243.5,388.0 247.5,388.0 251.5,388.0 255.5,388.0 259.5,388.0 263.5,413.9 267.5,447.2 271.5,460.5 275.5,448.9 279.5,439.5 283.5,435.4 287.5,451.0 291.5,450.9 295.5,437.8 299.5,430.4 303.5,434.8 307.5,438.2 311.5,422.8 315.5,411.1 319.5,413.4 323.5,426.7 327.5,441.2 331.5,409.8 335.5,397.1 339.5,403.0 343.5,414.5 347.5,427.5 351.5,408.2 355.5,394.8 359.5,388.0 363.5,398.8 367.5,406.1 371.5,423.7 375.5,439.4 379.5,448.6 383.5,449.2 387.5,446.0 391.5,450.8 395.5,457.5 399.5,458.9 403.5,460.5 407.5,460.1 411.5,460.0 415.5,459.9 419.5,460.5 423.5,460.5 427.5,448.6 431.5,434.6 435.5,425.9 439.5,440.7 443.5,440.6 447.5,425.5 451.5,402.2 455.5,417.5 459.5,441.8 463.5,459.5 467.5,452.7 471.5,438.9 475.5,421.4 479.5,394.8 483.5,396.7 487.5,388.0 491.5,400.1 495.5,417.0 499.5,433.3 503.5,419.1 507.5,395.2 511.5,434.1 515.5,449.8 519.5,460.5 523.5,449.2 527.5,431.9 531.5,429.4 535.5,408.7 539.5,408.7 543.5,392.1 547.5,391.8 551.5,388.0 555.5,399.4 559.5,420.3 563.5,443.0 567.5,454.8 571.5,449.3 575.5,438.2 579.5,429.4 583.5,407.1 587.5,397.8 591.5,388.0" fill="none" stroke="#20b2aa" stroke-width="1" /><polyline points="3.5,411.0 7.5,404.9 11.5,402.3 15.5,398.3 19.5,405.6 23.5,421.9 27.5,432.9 31.5,439.9 35.5,440.8 39.5,448.5 43.5,454.1 47.5,455.7 51.5,443.6 55.5,422.1 59.5,410.1 63.5,412.5 67.5,434.0 71.5,448.8 75.5,452.7 79.5,439.5 83.5,422.6 87.5,411.9 91.5,411.6 95.5,408.2 99.5,401.3 103.5,391.6 107.5,390.8 111.5,394.5 115.5,403.3 119.5,407.0 123.5,413.9 127.5,421.8 131.5,438.6 135.5,450.6 139.5,453.8 143.5,442.0 147.5,419.7 151.5,401.8 155.5,392.9 159.5,397.6 163.5,404.8 167.5,410.5 171.5,410.0 175.5,407.8 179.5,416.8 183.5,434.0 187.5,451.1 191.5,458.7 195.5,459.3 199.5,453.0 203.5,429.7 207.5,412.3 211.5,406.3 215.5,425.7 219.5,439.2 223.5,439.2 227.5,423.6 231.5,405.6 235.5,395.1 239.5,390.4 243.5,389.3 247.5,388.0 251.5,388.0 255.5,388.0 259.5,388.0 263.5,396.6 267.5,416.4 271.5,440.5 275.5,452.2 279.5,449.6 283.5,441.3 287.5,442.0 291.5,445.8 295.5,446.6 299.5,439.7 303.5,434.3 307.5,434.5 311.5,431.9 315.5,424.0 319.5,415.7 323.5,417.0 327.5,427.1 331.5,425.9 335.5,416.0 339.5,403.3 343.5,404.8 347.5,415.0 351.5,416.7 355.5,410.2 359.5,397.0 363.5,393.9 367.5,397.7 371.5,409.5 375.5,423.0 379.5,437.2 383.5,445.7 387.5,447.9 391.5,448.7 395.5,451.4 399.5,455.7 403.5,459.0 407.5,459.8 411.5,460.2 415.5,460.0 419.5,460.1 423.5,460.3 427.5,456.5 431.5,447.9 435.5,436.4 439.5,433.7 443.5,435.7 447.5,435.6 451.5,422.8 455.5,415.1 459.5,420.5 463.5,439.6 467.5,451.3 471.5,450.4 475.5,437.6 479.5,418.3 483.5,404.3 487.5,393.2 491.5,394.9 495.5,401.7 499.5,416.8 503.5,423.1 507.5,415.9 511.5,416.2 515.5,426.4 519.5,448.2 523.5,453.2 527.5,447.2 531.5,436.8 535.5,423.3 539.5,415.6 543.5,403.2 547.5,397.6 551.5,390.7 555.5,393.1 559.5,402.6 563.5,420.9 567.5,439.4 571.5,449.1 575.5,447.5 579.5,439.0 583.5,424.9 587.5,411.4 591.5,397.6" fill="none" stroke="#ff0000" stroke-width="1" stroke-dasharray="3 3"/></g><g clip-path="url(#cd)"><rect x="3" y="474" width="1" height="28" fill="#c0c0c0"/><rect x="7" y="471" width="1" height="31" fill="#c0c0c0"/><rect x="11" y="469" width="1" height="33" fill="#c0c0c0"/><rect x="15" y="469" width="1" height="33" fill="#c0c0c0"/><rect x="19" y="469" width="1" height="33" fill="#c0c0c0"/><rect x="23" y="469" width="1" height="33" fill="#c0c0c0"/><rect x="27" y="469" width="1" height="33" fill="#c0c0c0"/><rect x="31" y="471" width="1" height="31" fill="#c0c0c0"/><rect x="35" y="474" width="1" height="28" fill="#c0c0c0"/><rect x="39" y="477" width="1" height="25" fill="#c0c0c0"/><rect x="43" y="479" width="1" height="23" fill="#c0c0c0"/><rect x="47" y="480" width="1" height="22" fill="#c0c0c0"/><rect x="51" y="481" width="1" height="21" fill="#c0c0c0"/><rect x="55" y="481" width="1" height="21" fill="#c0c0c0"/><rect x="59" y="483" width="1" height="19" fill="#c0c0c0"/><rect x="63" y="485" width="1" height="17" fill="#c0c0c0"/><rect x="67" y="488" width="1" height="14" fill="#c0c0c0"/><rect x="71" y="490" width="1" height="12" fill="#c0c0c0"/><rect x="75" y="490" width="1" height="12" fill="#c0c0c0"/><rect x="79" y="490" width="1" height="12" fill="#c0c0c0"/><rect x="83" y="491" width="1" height="11" fill="#c0c0c0"/><rect x="87" y="492" width="1" height="10" fill="#c0c0c0"/><rect x="91" y="492" width="1" height="10" fill="#c0c0c0"/><rect x="95" y="490" width="1" height="12" fill="#c0c0c0"/><rect x="99" y="488" width="1" height="14" fill="#c0c0c0"/><rect x="103" y="486" width="1" height="16" fill="#c0c0c0"/><rect x="107" y="486" width="1" height="16" fill="#c0c0c0"/><rect x="111" y="485" width="1" height="17" fill="#c0c0c0"/><rect x="115" y="485" width="1" height="17" fill="#c0c0c0"/><rect x="119" y="484" width="1" height="18" fill="#c0c0c0"/><rect x="123" y="485" width="1" height="17" fill="#c0c0c0"/><rect x="127" y="487" width="1" height="15" fill="#c0c0c0"/><rect x="131" y="488" width="1" height="14" fill="#c0c0c0"/><rect x="135" y="490" width="1" height="12" fill="#c0c0c0"/><rect x="139" y="490" width="1" height="12" fill="#c0c0c0"/><rect x="143" y="489" width="1" height="13" fill="#c0c0c0"/><rect x="147" y="488" width="1" height="14" fill="#c0c0c0"/><rect x="151" y="488" width="1" height="14" fill="#c0c0c0"/><rect x="155" y="485" width="1" height="17" fill="#c0c0c0"/><rect x="159" y="485" width="1" height="17" fill="#c0c0c0"/><rect x="163" y="486" width="1" height="16" fill="#c0c0c0"/><rect x="167" y="481" width="1" height="21" fill="#c0c0c0"/><rect x="171" y="479" width="1" height="23" fill="#c0c0c0"/><rect x="175" y="480" width="1" height="22" fill="#c0c0c0"/><rect x="179" y="485" width="1" height="17" fill="#c0c0c0"/><rect x="183" y="489" width="1" height="13" fill="#c0c0c0"/><rect x="187" y="492" width="1" height="10" fill="#c0c0c0"/><rect x="191" y="495" width="1" height="7" fill="#c0c0c0"/><rect x="195" y="497" width="1" height="5" fill="#c0c0c0"/><rect x="199" y="499" width="1" height="3" fill="#c0c0c0"/><rect x="203" y="498" width="1" height="4" fill="#c0c0c0"/><rect x="207" y="500" width="1" height="2" fill="#c0c0c0"/><rect x="211" y="501" width="1" height="1" fill="#c0c0c0"/><rect x="215" y="501" width="1" height="2" fill="#c0c0c0"/><rect x="219" y="501" width="1" height="2" fill="#c0c0c0"/><rect x="223" y="501" width="1" height="2" fill="#c0c0c0"/><rect x="227" y="501" width="1" height="1" fill="#c0c0c0"/><rect x="231" y="500" width="1" height="2" fill="#c0c0c0"/><rect x="235" y="499" width="1" height="3" fill="#c0c0c0"/><rect x="239" y="496" width="1" height="6" fill="#c0c0c0"/><rect x="243" y="492" width="1" height="10" fill="#c0c0c0"/><rect x="247" y="489" width="1" height="13" fill="#c0c0c0"/><rect x="251" y="485" width="1" height="17" fill="#c0c0c0"/><rect x="255" y="483" width="1" height="19" fill="#c0c0c0"/><rect x="259" y="481" width="1" height="21" fill="#c0c0c0"/><rect x="263" y="482" width="1" height="20" fill="#c0c0c0"/><rect x="267" y="484" width="1" height="18" fill="#c0c0c0"/><rect x="271" y="486" width="1" height="16" fill="#c0c0c0"/><rect x="275" y="486" width="1" height="16" fill="#c0c0c0"/><rect x="279" y="487" width="1" height="15" fill="#c0c0c0"/><rect x="283" y="489" width="1" height="13" fill="#c0c0c0"/><rect x="287" y="491" width="1" height="11" fill="#c0c0c0"/><rect x="291" y="493" width="1" height="9" fill="#c0c0c0"/><rect x="295" y="493" width="1" height="9" fill="#c0c0c0"/><rect x="299" y="495" width="1" height="7" fill="#c0c0c0"/><rect x="303" y="496" width="1" height="6" fill="#c0c0c0"/><rect x="307" y="497" width="1" height="5" fill="#c0c0c0"/><rect x="311" y="497" width="1" height="5" fill="#c0c0c0"/><rect x="315" y="498" width="1" height="4" fill="#c0c0c0"/><rect x="319" y="498" width="1" height="4" fill="#c0c0c0"/><rect x="323" y="499" width="1" height="3" fill="#c0c0c0"/><rect x="327" y="500" width="1" height="2" fill="#c0c0c0"/><rect x="331" y="497" width="1" height="5" fill="#c0c0c0"/><rect x="335" y="496" width="1" height="6" fill="#c0c0c0"/><rect x="339" y="496" width="1" height="6" fill="#c0c0c0"/><rect x="343" y="496" width="1" height="6" fill="#c0c0c0"/><rect x="347" y="496" width="1" height="6" fill="#c0c0c0"/><rect x="351" y="493" width="1" height="9" fill="#c0c0c0"/><rect x="355" y="489" width="1" height="13" fill="#c0c0c0"/><rect x="359" y="482" width="1" height="20" fill="#c0c0c0"/><rect x="363" y="480" width="1" height="22" fill="#c0c0c0"/><rect x="367" y="478" width="1" height="24" fill="#c0c0c0"/><rect x="371" y="477" width="1" height="25" fill="#c0c0c0"/><rect x="375" y="478" width="1" height="24" fill="#c0c0c0"/><rect x="379" y="479" width="1" height="23" fill="#c0c0c0"/><rect x="383" y="479" width="1" height="23" fill="#c0c0c0"/><rect x="387" y="482" width="1" height="20" fill="#c0c0c0"/><rect x="391" y="484" width="1" height="18" fill="#c0c0c0"/><rect x="395" y="487" width="1" height="15" fill="#c0c0c0"/><rect x="399" y="495" width="1" height="7" fill="#c0c0c0"/><rect x="403" y="501" width="1" height="3" fill="#c0c0c0"/><rect x="407" y="501" width="1" height="8" fill="#c0c0c0"/><rect x="411" y="501" width="1" height="13" fill="#c0c0c0"/><rect x="415" y="501" width="1" height="18" fill="#c0c0c0"/><rect x="419" y="501" width="1" height="21" fill="#c0c0c0"/><rect x="423" y="501" width="1" height="26" fill="#c0c0c0"/><rect x="427" y="501" width="1" height="28" fill="#c0c0c0"/><rect x="431" y="501" width="1" height="28" fill="#c0c0c0"/><rect x="435" y="501" width="1" height="30" fill="#c0c0c0"/><rect x="439" y="501" width="1" height="33" fill="#c0c0c0"/><rect x="443" y="501" width="1" height="32" fill="#c0c0c0"/><rect x="447" y="501" width="1" height="31" fill="#c0c0c0"/><rect x="451" y="501" width="1" height="30" fill="#c0c0c0"/><rect x="455" y="501" width="1" height="32" fill="#c0c0c0"/><rect x="459" y="501" width="1" height="34" fill="#c0c0c0"/><rect x="463" y="501" width="1" height="35" fill="#c0c0c0"/><rect x="467" y="501" width="1" height="35" fill="#c0c0c0"/><rect x="471" y="501" width="1" height="34" fill="#c0c0c0"/><rect x="475" y="501" width="1" height="33" fill="#c0c0c0"/><rect x="479" y="501" width="1" height="31" fill="#c0c0c0"/><rect x="483" y="501" width="1" height="30" fill="#c0c0c0"/><rect x="487" y="501" width="1" height="28" fill="#c0c0c0"/><rect x="491" y="501" width="1" height="27" fill="#c0c0c0"/><rect x="495" y="501" width="1" height="25" fill="#c0c0c0"/><rect x="499" y="501" width="1" height="24" fill="#c0c0c0"/><rect x="503" y="501" width="1" height="22" fill="#c0c0c0"/><rect x="507" y="501" width="1" height="21" fill="#c0c0c0"/><rect x="511" y="501" width="1" height="21" fill="#c0c0c0"/><rect x="515" y="501" width="1" height="21" fill="#c0c0c0"/><rect x="519" y="501" width="1" height="21" fill="#c0c0c0"/><rect x="523" y="501" width="1" height="20" fill="#c0c0c0"/><rect x="527" y="501" width="1" height="19" fill="#c0c0c0"/><rect x="531" y="501" width="1" height="19" fill="#c0c0c0"/><rect x="535" y="501" width="1" height="16" fill="#c0c0c0"/><rect x="539" y="501" width="1" height="14" fill="#c0c0c0"/><rect x="543" y="501" width="1" height="11" fill="#c0c0c0"/><rect x="547" y="501" width="1" height="9" fill="#c0c0c0"/><rect x="551" y="501" width="1" height="4" fill="#c0c0c0"/><rect x="555" y="501" width="1" height="3" fill="#c0c0c0"/><rect x="559" y="501" width="1" height="2" fill="#c0c0c0"/><rect x="563" y="501" width="1" height="2" fill="#c0c0c0"/><rect x="567" y="501" width="1" height="1" fill="#c0c0c0"/><rect x="571" y="501" width="1" height="1" fill="#c0c0c0"/><rect x="575" y="500" width="1" height="2" fill="#c0c0c0"/><rect x="579" y="500" width="1" height="2" fill="#c0c0c0"/><rect x="583" y="499" width="1" height="3" fill="#c0c0c0"/><rect x="587" y="496" width="1" height="6" fill="#c0c0c0"/><rect x="591" y="494" width="1" height="8" fill="#c0c0c0"/><polyline points="3.5,475.0 7.5,474.4 11.5,473.6 15.5,472.8 19.5,472.0 23.5,471.4 27.5,470.8 31.5,470.5 35.5,470.5 39.5,470.8 43.5,471.7 47.5,473.0 51.5,474.4 55.5,475.7 59.5,477.2 63.5,478.9 67.5,480.7 71.5,482.5 75.5,484.0 79.5,485.2 83.5,486.4 87.5,487.7 91.5,488.9 95.5,489.7 99.5,490.0 103.5,489.9 107.5,489.4 111.5,488.9 115.5,488.4 119.5,487.6 123.5,486.8 127.5,486.3 131.5,486.0 135.5,486.2 139.5,486.7 143.5,487.0 147.5,487.2 151.5,487.5 155.5,487.6 159.5,487.7 163.5,487.6 167.5,486.8 171.5,485.7 175.5,484.5 179.5,484.1 183.5,484.2 187.5,484.7 191.5,485.8 195.5,487.2 199.5,488.6 203.5,490.5 207.5,492.8 211.5,495.1 215.5,497.1 219.5,498.6 223.5,499.7 227.5,500.3 231.5,500.6 235.5,500.7 239.5,500.5 243.5,499.6 247.5,498.2 251.5,496.3 255.5,494.2 259.5,491.9 263.5,489.7 267.5,487.9 271.5,486.4 275.5,485.2 279.5,484.7 283.5,484.7 287.5,485.4 291.5,486.4 295.5,487.8 299.5,489.2 303.5,490.6 307.5,491.8 311.5,493.1 315.5,494.3 319.5,495.3 323.5,496.1 327.5,496.9 331.5,497.4 335.5,497.5 339.5,497.4 343.5,497.4 347.5,497.3 351.5,496.7 355.5,495.7 359.5,493.8 363.5,491.7 367.5,489.5 371.5,487.5 375.5,485.6 379.5,483.6 383.5,481.8 387.5,480.6 391.5,480.1 395.5,480.6 399.5,482.2 403.5,484.9 407.5,488.4 411.5,492.2 415.5,496.5 419.5,501.2 423.5,506.1 427.5,510.9 431.5,515.6 435.5,519.4 439.5,522.8 443.5,525.5 447.5,527.5 451.5,528.9 455.5,530.0 459.5,530.9 463.5,531.8 467.5,532.5 471.5,532.9 475.5,532.9 479.5,532.7 483.5,532.5 487.5,532.3 491.5,531.7 495.5,530.8 499.5,529.6 503.5,528.2 507.5,526.8 511.5,525.5 515.5,524.3 519.5,523.4 523.5,522.5 527.5,521.6 531.5,520.9 535.5,520.0 539.5,519.0 543.5,518.0 547.5,516.6 551.5,514.8 555.5,512.7 559.5,510.8 563.5,508.9 567.5,506.9 571.5,505.2 575.5,503.7 579.5,502.5 583.5,501.4 587.5,500.5 591.5,499.6" fill="none" stroke="#ff0000" stroke-width="1" /></g><rect x="2" y="2" width="618" height="1" fill="#000"/><rect x="2" y="310" width="618" height="1" fill="#000"/><rect x="2" y="2" width="1" height="309" fill="#000"/><rect x="619" y="2" width="1" height="309" fill="#000"/><rect x="2" y="312" width="618" height="1" fill="#000"/><rect x="2" y="384" width="618" height="1" fill="#000"/><rect x="2" y="312" width="1" height="73" fill="#000"/><rect x="619" y="312" width="1" height="73" fill="#000"/><rect x="2" y="386" width="618" height="1" fill="#000"/><rect x="2" y="461" width="618" height="1" fill="#000"/><rect x="2" y="386" width="1" height="76" fill="#000"/><rect x="619" y="386" width="1" height="76" fill="#000"/><rect x="2" y="463" width="618" height="1" fill="#000"/><rect x="2" y="539" width="618" height="1" fill="#000"/><rect x="2" y="463" width="1" height="77" fill="#000"/><rect x="619" y="463" width="1" height="77" fill="#000"/><rect x="620" y="8" width="2" height="1" fill="#000"/><rect x="620" y="41" width="2" height="1" fill="#000"/><rect x="620" y="74" width="2" height="1" fill="#000"/><rect x="620" y="108" width="2" height="1" fill="#000"/><rect x="620" y="141" width="2" height="1" fill="#000"/><rect x="620" y="174" width="2" height="1" fill="#000"/><rect x="620" y="207" width="2" height="1" fill="#000"/><rect x="620" y="240" width="2" height="1" fill="#000"/><rect x="620" y="273" width="2" height="1" fill="#000"/><rect x="620" y="306" width="2" height="1" fill="#000"/><rect x="620" y="314" width="2" height="1" fill="#000"/><rect x="620" y="383" width="2" height="1" fill="#000"/><rect x="620" y="388" width="2" height="1" fill="#000"/><rect x="620" y="460" width="2" height="1" fill="#000"/><rect x="620" y="465" width="2" height="1" fill="#000"/><rect x="620" y="501" width="2" height="1" fill="#000"/><rect x="620" y="538" width="2" height="1" fill="#000"/><rect x="3" y="540" width="1" height="3" fill="#000"/><rect x="67" y="540" width="1" height="3" fill="#000"/><rect x="131" y="540" width="1" height="3" fill="#000"/><rect x="195" y="540" width="1" height="3" fill="#000"/><rect x="259" y="540" width="1" height="3" fill="#000"/><rect x="323" y="540" width="1" height="3" fill="#000"/><rect x="387" y="540" width="1" height="3" fill="#000"/><rect x="451" y="540" width="1" height="3" fill="#000"/><rect x="515" y="540" width="1" height="3" fill="#000"/><rect x="579" y="540" width="1" height="3" fill="#000"/><rect x="6" y="9" width="7" height="1" fill="#000"/><rect x="7" y="10" width="5" height="1" fill="#000"/><rect x="8" y="11" width="3" height="1" fill="#000"/><rect x="9" y="12" width="1" height="1" fill="#000"/></svg>
<div class="t" style="left:625px;top:3px;color:#000;font-size:10px;letter-spacing:-0.4px;">15.285</div><div class="t" style="left:625px;top:36px;color:#000;font-size:10px;letter-spacing:-0.4px;">15.180</div><div class="t" style="left:625px;top:69px;color:#000;font-size:10px;letter-spacing:-0.4px;">15.075</div><div class="t" style="left:625px;top:103px;color:#000;font-size:10px;letter-spacing:-0.4px;">14.970</div><div class="t" style="left:625px;top:136px;color:#000;font-size:10px;letter-spacing:-0.4px;">14.865</div><div class="t" style="left:625px;top:169px;color:#000;font-size:10px;letter-spacing:-0.4px;">14.760</div><div class="t" style="left:625px;top:202px;color:#000;font-size:10px;letter-spacing:-0.4px;">14.655</div><div class="t" style="left:625px;top:235px;color:#000;font-size:10px;letter-spacing:-0.4px;">14.550</div><div class="t" style="left:625px;top:268px;color:#000;font-size:10px;letter-spacing:-0.4px;">14.445</div><div class="t" style="left:625px;top:301px;color:#000;font-size:10px;letter-spacing:-0.4px;">14.340</div><div style="position:absolute;left:621px;top:94px;width:36px;height:11px;background:#ff0000"></div><div style="position:absolute;left:621px;top:124px;width:36px;height:11px;background:#ff0000"></div><div style="position:absolute;left:621px;top:157px;width:36px;height:11px;background:#000"></div><div style="position:absolute;left:621px;top:169px;width:36px;height:11px;background:#008000"></div><div style="position:absolute;left:621px;top:202px;width:36px;height:11px;background:#008000"></div><div style="position:absolute;left:621px;top:248px;width:36px;height:11px;background:#008000"></div><div class="t" style="left:625px;top:94px;color:#fff;font-size:10px;letter-spacing:-0.4px;">14.993</div><div class="t" style="left:625px;top:124px;color:#fff;font-size:10px;letter-spacing:-0.4px;">14.899</div><div class="t" style="left:625px;top:157px;color:#fff;font-size:10px;letter-spacing:-0.4px;">14.796</div><div class="t" style="left:625px;top:169px;color:#fff;font-size:10px;letter-spacing:-0.4px;">14.756</div><div class="t" style="left:625px;top:202px;color:#fff;font-size:10px;letter-spacing:-0.4px;">14.651</div><div class="t" style="left:625px;top:248px;color:#fff;font-size:10px;letter-spacing:-0.4px;">14.507</div><div class="t" style="left:18px;top:5px;color:#000;font-size:10px;letter-spacing:-0.4px;">XAGUSD,H1</div><div class="t" style="left:78.5px;top:5px;color:#000;font-size:10px;letter-spacing:-0.36px;">14.795 14.815 14.789 14.796</div><div class="t" style="left:7px;top:316px;color:#000;font-size:10px;letter-spacing:-0.4px;">RSI(14) 61.7417</div><div class="t" style="left:81px;top:316px;color:#000;font-size:10px;letter-spacing:-0.4px;">-&gt;</div><div class="t" style="left:91px;top:316px;color:#000;font-size:10px;letter-spacing:0px;">MA(18)</div><div class="t" style="left:125px;top:316px;color:#000;font-size:10px;letter-spacing:-0.4px;">51.8633</div><div class="t" style="left:7.5px;top:390px;color:#000;font-size:10px;letter-spacing:-0.4px;">Stoch(5,3,3)</div><div class="t" style="left:60px;top:390px;color:#000;font-size:10px;letter-spacing:-0.4px;">99.4220</div><div class="t" style="left:95.5px;top:390px;color:#000;font-size:10px;letter-spacing:-0.4px;">85.1296</div><div class="t" style="left:7.4px;top:467px;color:#000;font-size:10px;letter-spacing:-0.26px;">MACD(12,26,9)</div><div class="t" style="left:76px;top:467px;color:#000;font-size:10px;letter-spacing:-0.4px;">0.0125</div><div class="t" style="left:107px;top:467px;color:#000;font-size:10px;letter-spacing:-0.4px;">0.0036</div><div style="position:absolute;left:622px;top:387px;width:36px;height:6px;overflow:hidden"><div class="t" style="left:0.5px;top:-4px;font-size:10px;letter-spacing:-0.4px">100</div></div><div style="position:absolute;left:622px;top:450px;width:36px;height:11px;overflow:hidden"><div class="t" style="left:0.5px;top:5px;font-size:10px;letter-spacing:-0.4px">0</div></div><div class="t" style="left:622.5px;top:314px;color:#000;font-size:10px;letter-spacing:-0.4px;">100</div><div class="t" style="left:622.5px;top:329px;color:#000;font-size:10px;letter-spacing:-0.4px;">70</div><div class="t" style="left:622.5px;top:357px;color:#000;font-size:10px;letter-spacing:-0.4px;">30</div><div class="t" style="left:622.5px;top:372px;color:#000;font-size:10px;letter-spacing:-0.4px;">0</div><div class="t" style="left:622.5px;top:388px;color:#000;font-size:10px;letter-spacing:-0.4px;">100</div><div class="t" style="left:622.5px;top:397px;color:#000;font-size:10px;letter-spacing:-0.4px;">80</div><div class="t" style="left:622.5px;top:419px;color:#000;font-size:10px;letter-spacing:-0.4px;">50</div><div class="t" style="left:622.5px;top:441px;color:#000;font-size:10px;letter-spacing:-0.4px;">20</div><div class="t" style="left:622.5px;top:449px;color:#000;font-size:10px;letter-spacing:-0.4px;">0</div><div class="t" style="left:622.5px;top:465px;color:#000;font-size:10px;letter-spacing:-0.4px;">0.0624</div><div class="t" style="left:622.5px;top:496px;color:#000;font-size:10px;letter-spacing:-0.4px;">0.00</div><div class="t" style="left:622.5px;top:527px;color:#000;font-size:10px;letter-spacing:-0.4px;">-0.0644</div><div class="t" style="left:2px;top:543px;color:#000;font-size:10px;letter-spacing:-0.4px;">3 Jun 2019</div><div class="t" style="left:66px;top:543px;color:#000;font-size:10px;letter-spacing:-0.4px;">4 Jun 13:00</div><div class="t" style="left:130px;top:543px;color:#000;font-size:10px;letter-spacing:-0.4px;">5 Jun 06:00</div><div class="t" style="left:194px;top:543px;color:#000;font-size:10px;letter-spacing:-0.4px;">5 Jun 22:00</div><div class="t" style="left:258px;top:543px;color:#000;font-size:10px;letter-spacing:-0.4px;">6 Jun 15:00</div><div class="t" style="left:322px;top:543px;color:#000;font-size:10px;letter-spacing:-0.4px;">7 Jun 08:00</div><div class="t" style="left:386px;top:543px;color:#000;font-size:10px;letter-spacing:-0.4px;">10 Jun 01:00</div><div class="t" style="left:450px;top:543px;color:#000;font-size:10px;letter-spacing:-0.4px;">10 Jun 17:00</div><div class="t" style="left:514px;top:543px;color:#000;font-size:10px;letter-spacing:-0.4px;">11 Jun 10:00</div><div class="t" style="left:578px;top:543px;color:#000;font-size:10px;letter-spacing:-0.4px;">12 Jun 03:00</div>
</body></html>
